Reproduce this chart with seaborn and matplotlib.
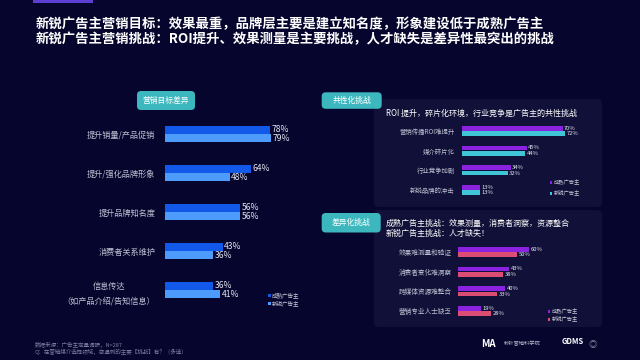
import numpy as np
import pandas as pd
import seaborn as sns
import matplotlib.pyplot as plt
import matplotlib.transforms as mtransforms
from matplotlib.patches import FancyBboxPatch, Rectangle

# 数据
groups = ['成熟广告主', '新锐广告主']

goal_cats = ['提升销量/产品促销', '提升/强化品牌形象', '提升品牌知名度', '消费者关系维护',
             '信息传达\n（如产品介绍/告知信息）']
goal_mature = [78, 64, 56, 43, 36]
goal_new = [79, 48, 56, 36, 41]

common_cats = ['营销传播ROI难提升', '媒介碎片化', '行业竞争加剧', '新锐品牌的冲击']
common_mature = [70, 45, 34, 13]
common_new = [72, 44, 32, 13]

diff_cats = ['效果难测量和验证', '消费者变化难洞察', '跨媒体资源难整合', '营销专业人士缺乏']
diff_mature = [60, 43, 40, 19]
diff_new = [50, 38, 33, 28]

title_lines = ['新锐广告主营销目标：效果最重，品牌层主要是建立知名度，形象建设低于成熟广告主',
               '新锐广告主营销挑战：ROI提升、效果测量是主要挑战，人才缺失是差异性最突出的挑战']


def long_df(cats, a, b):
    return pd.DataFrame({
        'cat': cats * 2,
        'val': a + b,
        'grp': [groups[0]] * len(cats) + [groups[1]] * len(cats),
    })


BG = '#05052d'
PANEL = '#101038'
TEAL = '#3db7be'

sns.set_theme(style='white')
plt.rcParams['font.family'] = ['Noto Sans CJK SC', 'DejaVu Sans']

fig = plt.figure(figsize=(6.4, 3.6), dpi=100)
fig.patch.set_facecolor(BG)

# 像素坐标（左上为原点）
px = mtransforms.Affine2D().scale(0.01, -0.01).translate(0, 3.6) + fig.dpi_scale_trans


def ax_px(x0, y0, x1, y1):
    ax = fig.add_axes([x0 / 640, 1 - y1 / 360, (x1 - x0) / 640, (y1 - y0) / 360])
    ax.set_zorder(2)
    return ax


def box(x, y, w, h, color, r=4, z=0):
    fig.patches.append(FancyBboxPatch((x, y), w, h, boxstyle=f'round,pad=0,rounding_size={r}',
                                      transform=px, facecolor=color, edgecolor='none', zorder=z))


def badge(x, y, w, h, text):
    box(x, y, w, h, TEAL, 4, z=1)
    fig.text(x + w / 2, y + h / 2, text, transform=px, ha='center', va='center',
             color='white', fontsize=5.6, zorder=3)


def bar_panel(ax, df, n, palette, width, gap, lab_size, val_size, pad, leg_xy, leg_size, leg_sp):
    sns.barplot(data=df, y='cat', x='val', hue='grp', hue_order=groups, orient='h',
                palette=palette, width=width, gap=gap, ax=ax, legend=False, saturation=1,
                linewidth=0)
    ax.set_xlim(0, 100)
    ax.set_ylim(n - 0.5, -0.5)
    ax.set_xticks([])
    ax.set_xlabel('')
    ax.set_ylabel('')
    ax.patch.set_visible(False)
    for s in ax.spines.values():
        s.set_visible(False)
    ax.tick_params(axis='y', length=0, pad=pad, labelsize=lab_size, labelcolor='#bfc0d2')
    for c in ax.containers:
        ax.bar_label(c, fmt='{:.0f}%', padding=1, fontsize=val_size, color='#e6e6f2')
    ax.legend(ax.containers, groups, loc='upper left',
              bbox_to_anchor=(leg_xy[0] / 640, 1 - leg_xy[1] / 360), bbox_transform=fig.transFigure,
              frameon=False, fontsize=leg_size, labelcolor='#c8c8d8', handlelength=0.5,
              handleheight=0.5, handletextpad=0.3, borderpad=0, labelspacing=leg_sp)


# 标题
fig.patches.append(Rectangle((33, 0), 60, 3, transform=px, facecolor='#5b3fd2', edgecolor='none'))
fig.text(36, 24.5, title_lines[0], transform=px, ha='left', va='center', color='white',
         fontsize=9.6, fontweight='bold')
fig.text(36, 39.5, title_lines[1], transform=px, ha='left', va='center', color='white',
         fontsize=9.6, fontweight='bold')

# 左侧：营销目标差异
badge(137, 91, 58, 19, '营销目标差异')
ax1 = ax_px(165, 114.5, 299.6, 309.5)
bar_panel(ax1, long_df(goal_cats, goal_mature, goal_new), len(goal_cats),
          ['#1259ea', '#4d9cfb'], 0.42, 0.06, 5.9, 6.2, 7, (265, 290), 4, 0.35)
for t in ax1.get_yticklabels():
    t.set_multialignment('center')
    t.set_linespacing(1.8)

# 右上：共性化挑战
box(374, 99, 228, 108, PANEL, 5)
badge(321.7, 92.3, 60, 16.5, '共性化挑战')
fig.text(386, 113, 'ROI 提升，碎片化环境，行业竞争是广告主的共性挑战', transform=px,
         ha='left', va='center', color='white', fontsize=5.8, zorder=3)
ax2 = ax_px(461.7, 121.2, 605.7, 199.8)
bar_panel(ax2, long_df(common_cats, common_mature, common_new), len(common_cats),
          ['#8a22e0', '#3fc5d5'], 0.56, 0.12, 4.6, 4.2, 5, (547, 177), 3.8, 0.95)

# 右下：差异化挑战
box(374, 210, 228, 117, PANEL, 5)
badge(321.7, 213, 59, 19.5, '差异化挑战')
fig.text(386, 223, '成熟广告主挑战：效果测量，消费者洞察，资源整合', transform=px,
         ha='left', va='center', color='white', fontsize=5.8, zorder=3)
fig.text(386, 233.5, '新锐广告主挑战：人才缺失！', transform=px,
         ha='left', va='center', color='white', fontsize=5.8, zorder=3)
ax3 = ax_px(458.3, 242.2, 576.3, 320.8)
bar_panel(ax3, long_df(diff_cats, diff_mature, diff_new), len(diff_cats),
          ['#8a22e0', '#dc4d73'], 0.56, 0.12, 4.8, 4.2, 5, (545, 306), 3.8, 0.45)

# 脚注
fig.text(35, 344.5, '数据来源：广告主定量调研，N=287', transform=px, ha='left', va='center',
         color='#7c7ea0', fontsize=4)
fig.text(35, 352, 'Q：在营销媒介选择领域，您遇到的主要【挑战】有？（多选）', transform=px,
         ha='left', va='center', color='#7c7ea0', fontsize=4)

# 标志
fig.text(488, 344, 'MA', transform=px, ha='center', va='center', color='white',
         fontsize=7, fontweight='bold')
fig.text(504, 344, '秒针营销科学院', transform=px, ha='left', va='center', color='#b8b8cc',
         fontsize=3.8)
fig.text(562, 341.5, 'GDMS', transform=px, ha='left', va='center', color='white',
         fontsize=5.5, fontweight='bold')
fig.text(593, 344, '◎', transform=px, ha='center', va='center', color='#8a8aa0', fontsize=6)

fig.savefig('out.png', dpi=100, facecolor=fig.get_facecolor())
